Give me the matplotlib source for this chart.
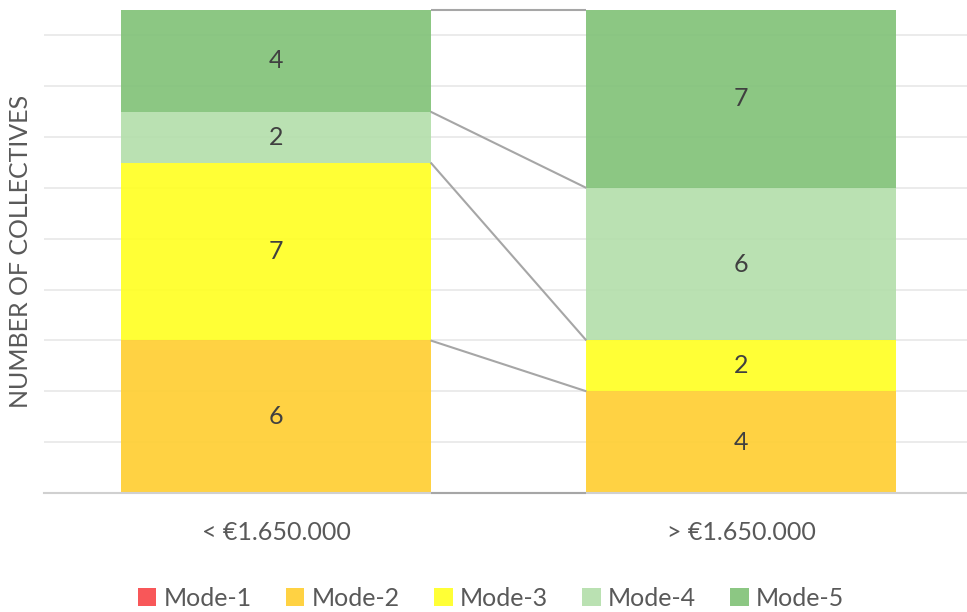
import matplotlib.pyplot as plt
import numpy as np

categories = ["< €1.650.000", "> €1.650.000"]
modes = ["Mode-1", "Mode-2", "Mode-3", "Mode-4", "Mode-5"]
mode1 = [0, 0]
mode2 = [6, 4]
mode3 = [7, 2]
mode4 = [2, 6]
mode5 = [4, 7]
colors = ["#F84A4C", "#FFCF35", "#FFFF26", "#B5DFAC", "#83C37A"]

plt.rcParams["font.family"] = ["Lato", "DejaVu Sans"]
text_grey = "#595959"

fig = plt.figure(figsize=(9.67, 6.12), dpi=100)
ax = fig.add_axes([44 / 967, 1 - 493 / 612, 923 / 967, 483 / 612])

x = np.arange(len(categories))
width = 0.665
series = [mode1, mode2, mode3, mode4, mode5]
bottom = np.zeros(len(categories))
tops = []
handles = []
for name, vals, col in zip(modes, series, colors):
    vals = np.array(vals, dtype=float)
    bars = ax.bar(x, vals, width, bottom=bottom, color=col, alpha=0.93,
                  label=name, zorder=2, linewidth=0)
    handles.append(bars)
    for xi, v, b in zip(x, vals, bottom):
        if v > 0:
            ax.text(xi, b + v / 2, f"{int(v)}", ha="center", va="center",
                    fontsize=18, color="#404040", zorder=4)
    bottom = bottom + vals
    tops.append(bottom.copy())

# series lines joining segment tops between the two columns
for t in tops:
    ax.plot([x[0] + width / 2, x[1] - width / 2], [t[0], t[1]],
            color="#A6A6A6", lw=1.5, zorder=3, clip_on=False,
            solid_capstyle="butt")

ax.set_xlim((44 - 276) / 465, (967 - 276) / 465)
ax.set_ylim(0, 19)
ax.set_yticks(np.arange(2, 19, 2))
ax.yaxis.grid(True, color="#E8E8E8", lw=1.2, zorder=0)
ax.set_axisbelow(True)
ax.tick_params(axis="y", length=0, labelleft=False)
ax.tick_params(axis="x", length=0, pad=20, labelsize=18, labelcolor=text_grey)
ax.set_xticks(x)
ax.set_xticklabels(categories)
for s in ["top", "right", "left"]:
    ax.spines[s].set_visible(False)
ax.spines["bottom"].set_color("#D0D0D0")
ax.spines["bottom"].set_linewidth(1.5)

fig.text(21 / 967, 1 - 251 / 612, "NUMBER OF COLLECTIVES", rotation=90,
         ha="center", va="center", fontsize=18, color=text_grey)

leg = fig.legend(handles=handles, labels=modes, loc="center",
                 bbox_to_anchor=(491 / 967, 1 - 598 / 612), ncol=5,
                 frameon=False, fontsize=18, handlelength=0.75,
                 handleheight=0.75, handletextpad=0.3, columnspacing=1.35)
for t in leg.get_texts():
    t.set_color(text_grey)

fig.savefig("out.png", dpi=100)
